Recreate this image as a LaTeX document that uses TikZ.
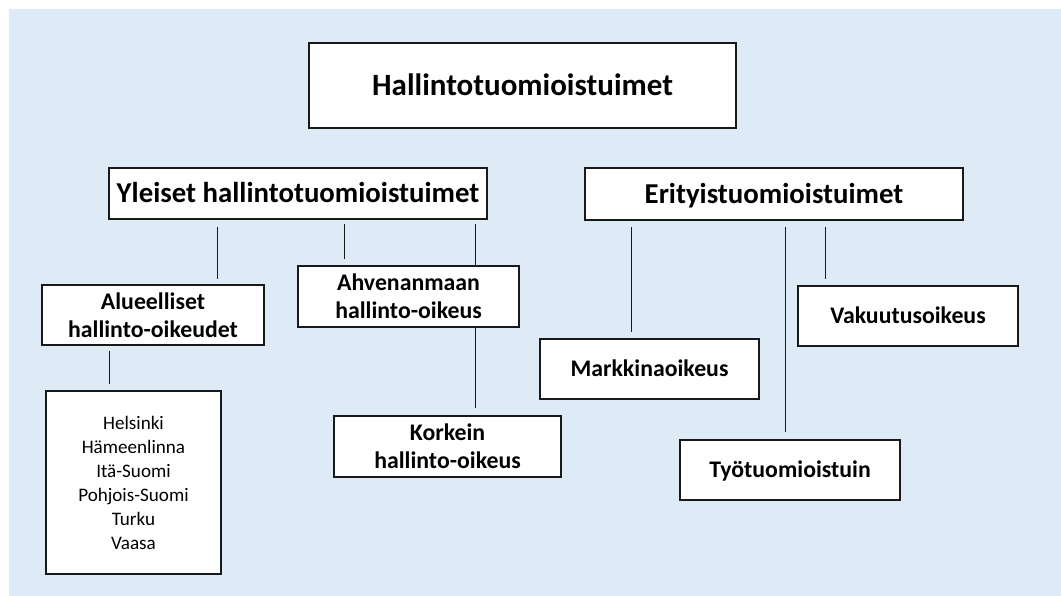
\documentclass[tikz,border=0pt]{standalone}
\usepackage{fontspec}
\setmainfont{Carlito}
\definecolor{bgblue}{RGB}{222,235,247}
\tikzset{
  box/.style={draw=black!90, line width=1.1pt, fill=white, inner sep=0pt, align=center},
  conn/.style={draw=black!90, line width=0.9pt},
  bigtitle/.style={font=\fontsize{31}{36}\selectfont\bfseries, text height=20pt, text depth=0pt},
  midtitle/.style={font=\fontsize{28.8}{33}\selectfont\bfseries, text height=18.5pt, text depth=0pt},
  lbl/.style={font=\fontsize{23.8}{28}\selectfont\bfseries},
  lblone/.style={lbl, text height=15.3pt, text depth=0pt},
  cities/.style={font=\fontsize{19.1}{24}\selectfont}
}
\begin{document}
\begin{tikzpicture}[x=1pt,y=-1pt]
\useasboundingbox (0,0) rectangle (1061,596);
\fill[bgblue] (9,9) rectangle (1061,596);
% nodes
\node[box,bigtitle,minimum width=427pt,minimum height=85pt] (top) at (522.5,85.5) {Hallintotuomioistuimet};
\node[box,midtitle,minimum width=378pt,minimum height=51pt] (yl) at (298,193.5) {Yleiset hallintotuomioistuimet};
\node[box,midtitle,minimum width=378pt,minimum height=52pt] (er) at (774,194) {Erityistuomioistuimet};
\node[box,lbl,minimum width=222pt,minimum height=60pt] (al) at (153,315) {Alueelliset\\hallinto-oikeudet};
\node[box,lbl,minimum width=221pt,minimum height=61pt] (ah) at (408.5,296.5) {Ahvenanmaan\\hallinto-oikeus};
\node[box,lbl,minimum width=227pt,minimum height=61pt] (ko) at (447.5,446.5) {Korkein\\hallinto-oikeus};
\node[box,cities,minimum width=175pt,minimum height=183pt] (ci) at (133.5,482.5) {Helsinki\\Hämeenlinna\\Itä-Suomi\\Pohjois-Suomi\\Turku\\Vaasa};
\node[box,lblone,minimum width=220pt,minimum height=60pt] (va) at (908,316) {Vakuutusoikeus};
\node[box,lblone,minimum width=219pt,minimum height=60pt] (ma) at (649.5,369) {Markkinaoikeus};
\node[box,lblone,minimum width=220pt,minimum height=60pt] (ty) at (790,470) {Työtuomioistuin};
% connector x positions
\coordinate (x1) at (217,0);
\coordinate (x2) at (344,0);
\coordinate (x3) at (475,0);
\coordinate (x4) at (109,0);
\coordinate (x5) at (631,0);
\coordinate (x6) at (785,0);
\coordinate (x7) at (825,0);
% connectors
\draw[conn,shorten <=7pt,shorten >=5pt] (x1 |- yl.south) -- (x1 |- al.north);
\draw[conn,shorten <=4pt,shorten >=6pt] (x2 |- yl.south) -- (x2 |- ah.north);
\draw[conn,shorten <=4pt] (x3 |- yl.south) -- (x3 |- ah.north);
\draw[conn,shorten >=7pt] (x3 |- ah.south) -- (x3 |- ko.north);
\draw[conn,shorten <=5pt,shorten >=6pt] (x4 |- al.south) -- (x4 |- ci.north);
\draw[conn,shorten <=6pt,shorten >=6pt] (x5 |- er.south) -- (x5 |- ma.north);
\draw[conn,shorten <=6pt,shorten >=7pt] (x6 |- er.south) -- (x6 |- ty.north);
\draw[conn,shorten <=6pt,shorten >=6pt] (x7 |- er.south) -- (x7 |- va.north);
\end{tikzpicture}
\end{document}
